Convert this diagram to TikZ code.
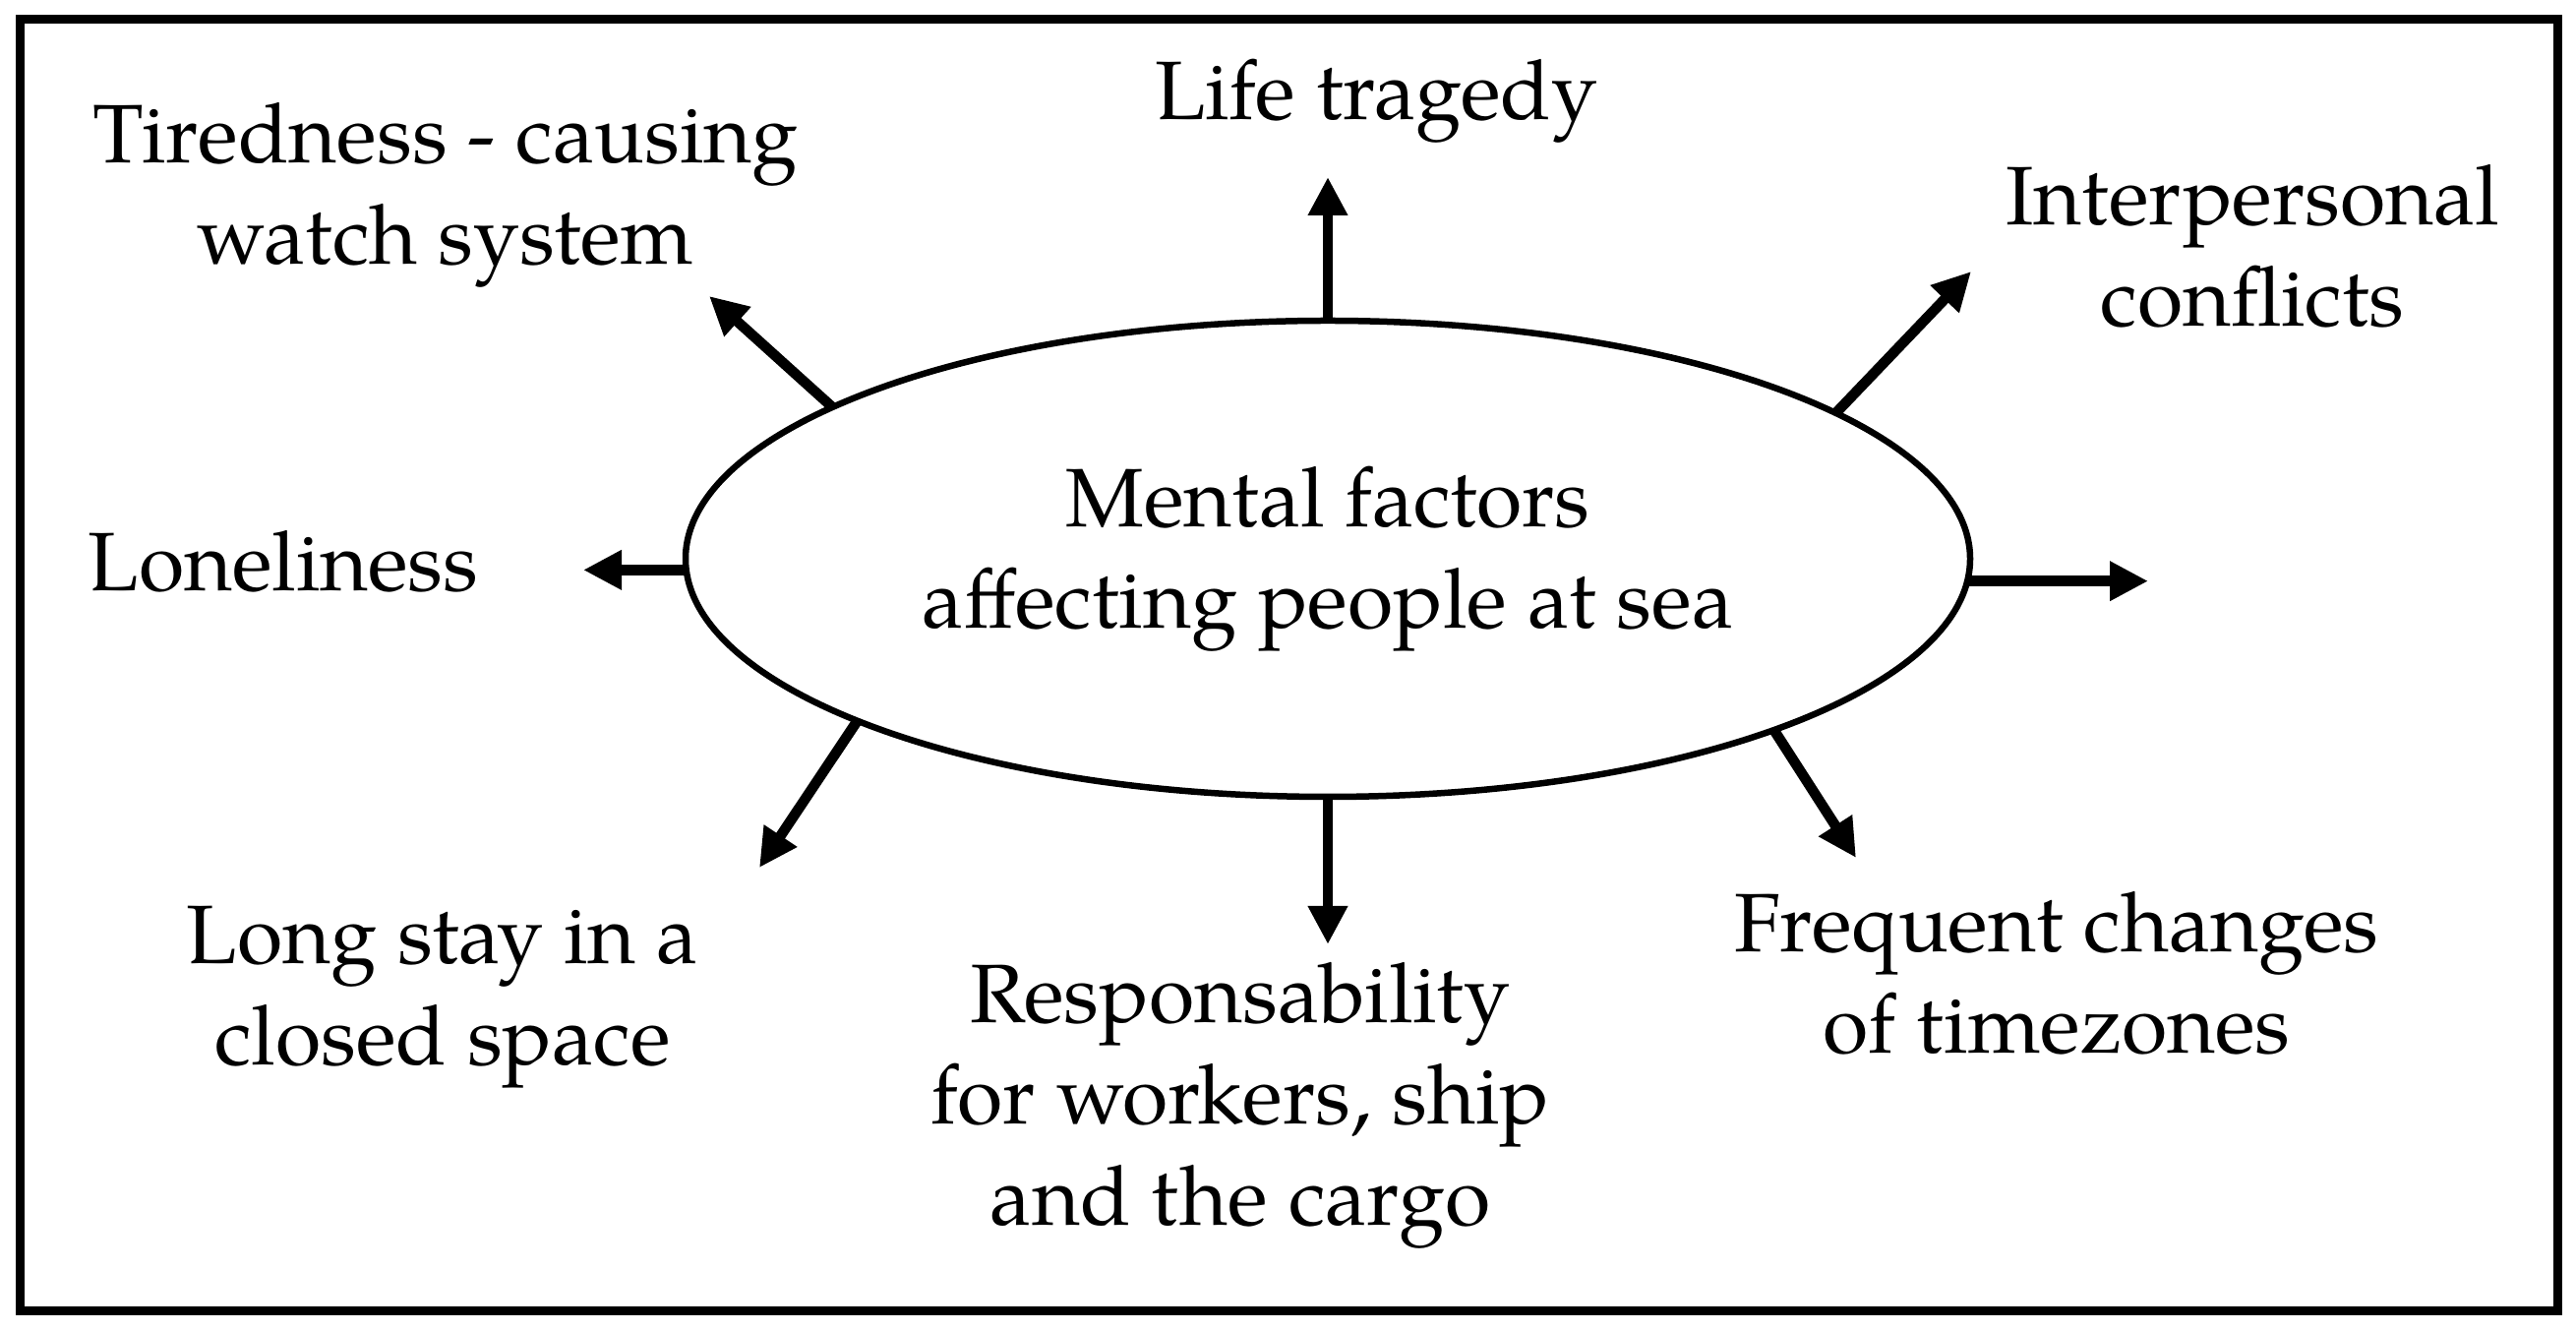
\documentclass[tikz,border=0pt]{standalone}
\usepackage{fontspec}
\setmainfont{TeX Gyre Pagella}
\usetikzlibrary{arrows.meta,shapes.geometric}
\begin{document}
\begin{tikzpicture}[x=0.1mm,y=0.1mm,
  lbl/.style={align=center,font=\fontsize{24pt}{29.3pt}\selectfont,inner sep=0pt},
  arr/.style={line width=1.05mm,-{Triangle[length=3.9mm,width=3.8mm]}},
  hub/.style={ellipse,draw,line width=0.65mm,minimum width=130.6mm,minimum height=48.4mm,inner sep=0pt,outer sep=0pt,align=center,font=\fontsize{24pt}{29.3pt}\selectfont}]
\useasboundingbox (0,0) rectangle (2619,1353);
\draw[line width=0.9mm] (20,20) rectangle (2600,1333);
\node[hub] (c) at (1350,785) {Mental factors\\affecting people at sea};
\node[lbl] (life) at (1399,1250) {Life tragedy};
\node[lbl] (tired) at (453,1155) {Tiredness - causing\\watch system};
\node[lbl] (inter) at (2290,1103) {Interpersonal\\conflicts};
\node[lbl] (lone) at (288,782) {Loneliness};
\node[lbl] (long) at (450,339) {Long stay in a\\closed space};
\node[lbl] (resp) at (1261,229) {Responsability\\for workers, ship\\and the cargo};
\node[lbl] (freq) at (2091,364) {Frequent changes\\of timezones};
\coordinate (eT) at (1350,1173);
\coordinate (eTL) at (721,1052);
\coordinate (eTR) at (2004,1077);
\coordinate (eL) at (593,773);
\coordinate (eR) at (2184,768);
\coordinate (eBL) at (772,471);
\coordinate (eB) at (1350,393);
\coordinate (eBR) at (1887,481);
\draw[arr] (c.north) -- (eT);
\draw[arr] (c.163.8) -- (eTL);
\draw[arr] (c.16.6) -- (eTR);
\draw[arr] (c.181) -- (c.181 -| eL);
\draw[arr] (c.358.5) -- (c.358.5 -| eR);
\draw[arr] (c.199.4) -- (eBL);
\draw[arr] (c.south) -- (eB);
\draw[arr] (c.339) -- (eBR);
\end{tikzpicture}
\end{document}
